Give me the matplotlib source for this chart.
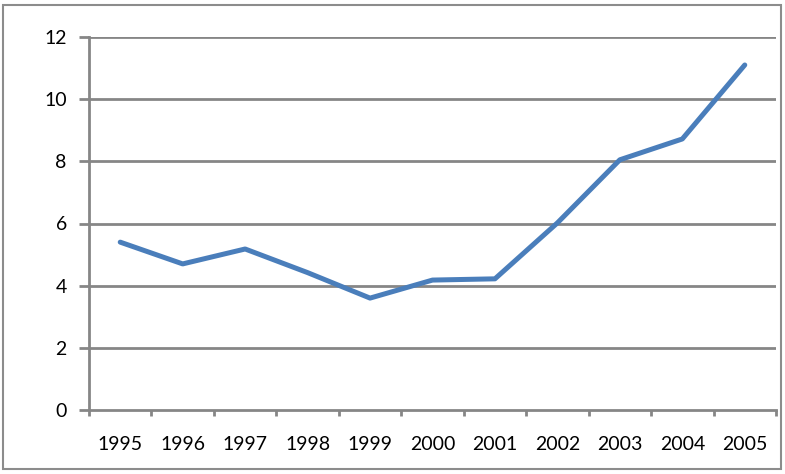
import matplotlib
matplotlib.use("Agg")
import matplotlib.pyplot as plt
from matplotlib.patches import Rectangle
import numpy as np

years = ["1995", "1996", "1997", "1998", "1999", "2000", "2001", "2002", "2003", "2004", "2005"]
values = [5.4, 4.7, 5.18, 4.42, 3.6, 4.18, 4.22, 6.02, 8.05, 8.72, 11.1]
yticks = [0, 2, 4, 6, 8, 10, 12]

plt.rcParams['font.family'] = ['Lato', 'DejaVu Sans']
fig = plt.figure(figsize=(7.85, 4.74), dpi=100)
ax = fig.add_axes([89/785, 1-410/474, 687/785, 373/474])

x = np.arange(len(years))
gray = "#868686"
ax.set_xlim(-0.5, len(years) - 0.5)
ax.set_ylim(0, 12)
ax.set_yticks(yticks)
ax.set_yticklabels([str(v) for v in yticks])
for v in yticks[1:]:
    ax.axhline(v, color=gray, lw=2, zorder=1)
ax.plot(x, values, color="#4A7EBB", lw=3.6, solid_capstyle="round", solid_joinstyle="round", zorder=3)

ax.set_xticks(x)
ax.set_xticklabels(years)
ax.set_xticks(np.arange(-0.5, len(years)), minor=True)
ax.tick_params(axis="x", which="major", length=0, pad=18.5, labelsize=14, colors="black")
ax.tick_params(axis="x", which="minor", length=4, width=2, color=gray)
ax.tick_params(axis="y", length=7, width=2, color=gray, pad=9, labelsize=14)

for s in ["top", "right"]:
    ax.spines[s].set_visible(False)
for s in ["left", "bottom"]:
    ax.spines[s].set_color(gray)
    ax.spines[s].set_linewidth(2)

fig.patches.append(Rectangle((3/785, 5/474), 778/785, 464/474, transform=fig.transFigure,
                             fill=False, edgecolor="#8c8c8c", lw=1.5))
fig.savefig("out.png", dpi=100)
